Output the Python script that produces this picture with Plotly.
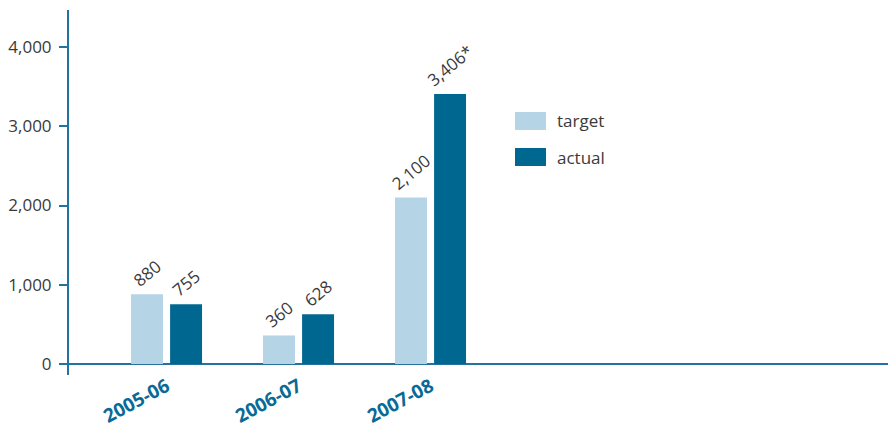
import plotly.graph_objects as go

categories = ["2005-06", "2006-07", "2007-08"]
series_names = ["target", "actual"]
target_values = [880, 360, 2100]
actual_values = [755, 628, 3406]
target_labels = ["880", "360", "2,100"]
actual_labels = ["755", "628", "3,406*"]
y_tick_values = [0, 1000, 2000, 3000, 4000]
y_tick_labels = ["0", "1,000", "2,000", "3,000", "4,000"]

LIGHT = "#b5d4e6"
DARK = "#006890"
AXIS = "#2373a0"
TEXT = "#3a3a3a"
FONT = "Open Sans"

fig = go.Figure()
fig.add_trace(go.Bar(
    x=categories, y=target_values, name=series_names[0],
    marker=dict(color=LIGHT, line=dict(width=0)),
    width=0.242, offset=-0.269,
    text=target_labels, textposition="outside", textangle=-40,
    constraintext="none",
    textfont=dict(family=FONT, size=17, color=TEXT),
    cliponaxis=False, showlegend=False,
))
fig.add_trace(go.Bar(
    x=categories, y=actual_values, name=series_names[1],
    marker=dict(color=DARK, line=dict(width=0)),
    width=0.242, offset=0.027,
    text=actual_labels, textposition="outside", textangle=-40,
    constraintext="none",
    textfont=dict(family=FONT, size=17, color=TEXT),
    cliponaxis=False, showlegend=False,
))

# legend drawn as swatches + labels
legend_colors = [LIGHT, DARK]
for i, (name, col) in enumerate(zip(series_names, legend_colors)):
    y0 = 112 + i * 36
    fig.add_shape(type="rect", xref="paper", yref="paper",
                  x0=(515 - 69) / 819, x1=(546 - 69) / 819,
                  y0=(375 - (y0 + 18)) / 365, y1=(375 - y0) / 365,
                  fillcolor=col, line=dict(width=0))
    fig.add_annotation(text=name, xref="paper", yref="paper",
                       x=(555 - 69) / 819, y=(375 - (y0 + 9)) / 365,
                       xanchor="left", yanchor="middle", showarrow=False,
                       font=dict(family=FONT, size=17, color=TEXT))

fig.update_layout(
    width=894, height=425,
    margin=dict(l=69, r=6, t=10, b=50),
    paper_bgcolor="white", plot_bgcolor="white",
    barmode="group",
    font=dict(family=FONT, size=17, color=TEXT),
)
fig.update_xaxes(
    type="category", range=[-0.739, 5.466], automargin=False,
    showline=False, showgrid=False, zeroline=False, ticks="",
    tickangle=-28, ticklabelstandoff=-4,
    tickfont=dict(family=FONT, size=19, color="#0a6a96", weight="bold"),
)
fig.update_yaxes(
    range=[-139, 4467], tickvals=y_tick_values, ticktext=y_tick_labels,
    automargin=False,
    showline=True, linecolor=AXIS, linewidth=2,
    ticks="outside", ticklen=8, tickcolor=AXIS, tickwidth=2,
    showgrid=False, zeroline=True, zerolinecolor=AXIS, zerolinewidth=2,
    ticklabelstandoff=4,
    tickfont=dict(family=FONT, size=17, color=TEXT),
)

fig.write_html("out.html",
               config={"displayModeBar": False},
               post_script="document.body.style.margin='0';document.body.style.overflow='hidden';")
